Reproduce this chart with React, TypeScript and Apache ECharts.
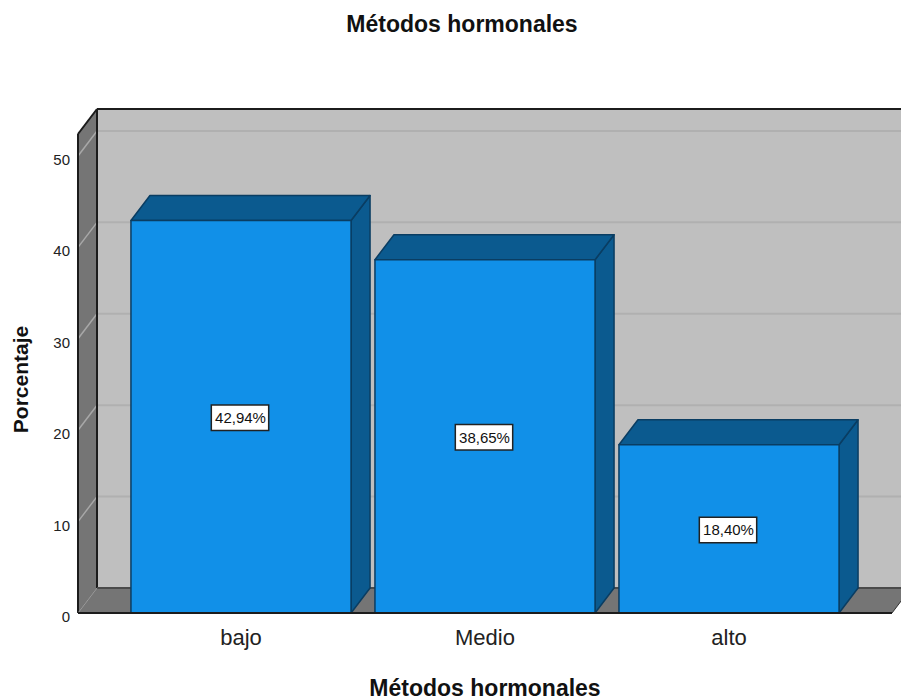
import React, { useEffect, useRef } from "react";
import * as echarts from "echarts";

const titleText = "Métodos hormonales";
const xName = "Métodos hormonales";
const yName = "Porcentaje";
const categories = ["bajo", "Medio", "alto"];
const values = [42.94, 38.65, 18.4];
const barLabels = ["42,94%", "38,65%", "18,40%"];
const gridValues = [10, 20, 30, 40, 50];

const DX = 19;
const DY = 25;
const FONT = "'Liberation Sans', Arial, sans-serif";

export default function App() {
  const ref = useRef<HTMLDivElement>(null);
  useEffect(() => {
    const chart = echarts.init(ref.current!, undefined, { renderer: "svg" });
    chart.setOption({
      animation: false,
      backgroundColor: "#fff",
      title: {
        text: titleText,
        left: 457,
        top: 7,
        textAlign: "center",
        textStyle: { fontFamily: FONT, fontSize: 23, fontWeight: "bold", color: "#111" },
      },
      grid: { left: 119, right: 50, top: 134, bottom: 86, outerBoundsMode: "none" },
      xAxis: {
        type: "category",
        data: categories,
        name: xName,
        nameLocation: "middle",
        nameGap: 63,
        nameTextStyle: { fontFamily: FONT, fontSize: 23, fontWeight: "bold", color: "#111" },
        axisLine: { show: false },
        axisTick: { show: false },
        axisLabel: { fontFamily: FONT, fontSize: 22, color: "#222", margin: 13 },
      },
      yAxis: {
        type: "value",
        min: 0,
        max: 52.4,
        interval: 10,
        offset: 41,
        name: yName,
        nameLocation: "middle",
        nameGap: 47,
        nameTextStyle: { fontFamily: FONT, fontSize: 21, fontWeight: "bold", color: "#111", padding: [0, 12, 0, 0] },
        splitLine: { show: false },
        axisLine: { show: false },
        axisTick: { show: false },
        axisLabel: {
          fontFamily: FONT,
          fontSize: 15,
          color: "#222",
          margin: 8,
          showMaxLabel: false,
          verticalAlign: "top",
          lineHeight: 7,
        },
      },
      series: [
        {
          type: "custom",
          z: 1,
          silent: true,
          data: [0],
          encode: { x: -1, y: -1 },
          renderItem: (params: any, api: any) => {
            const cs = params.coordSys;
            const bottom = api.coord([0, 0])[1];
            const top = api.coord([0, 52.4])[1];
            const left = cs.x - 41;
            const right = cs.x + cs.width + 41;
            const children: any[] = [
              { type: "rect", shape: { x: left + DX, y: top - DY, width: right - left, height: bottom - top }, style: { fill: "#bfbfbf" } },
              { type: "polygon", shape: { points: [[left, top], [left + DX, top - DY], [left + DX, bottom - DY], [left, bottom]] }, style: { fill: "#757575", stroke: "#555", lineWidth: 1 } },
              { type: "polygon", shape: { points: [[left, bottom], [left + DX, bottom - DY], [right + DX, bottom - DY], [right, bottom]] }, style: { fill: "#757575" } },
            ];
            gridValues.forEach((v) => {
              const y = api.coord([0, v])[1];
              children.push({ type: "line", shape: { x1: left, y1: y, x2: left + DX, y2: y - DY }, style: { stroke: "#a8a8a8", lineWidth: 1.5 } });
              children.push({ type: "line", shape: { x1: left + DX, y1: y - DY, x2: right + DX, y2: y - DY }, style: { stroke: "#b0b0b0", lineWidth: 2 } });
            });
            const dark = { stroke: "#1c1c1c", lineWidth: 2 };
            children.push(
              { type: "line", shape: { x1: left + DX, y1: top - DY, x2: right + DX, y2: top - DY }, style: dark },
              { type: "line", shape: { x1: left + DX, y1: top - DY, x2: left + DX, y2: bottom - DY }, style: dark },
              { type: "line", shape: { x1: left, y1: top, x2: left + DX, y2: top - DY }, style: dark },
              { type: "line", shape: { x1: left, y1: top, x2: left, y2: bottom }, style: dark },
              { type: "line", shape: { x1: left + DX, y1: bottom - DY, x2: right + DX, y2: bottom - DY }, style: { stroke: "#4a4a4a", lineWidth: 2 } },
              { type: "line", shape: { x1: right, y1: bottom, x2: right + DX, y2: bottom - DY }, style: { stroke: "#333", lineWidth: 1 } },
              { type: "line", shape: { x1: left, y1: bottom, x2: left + DX, y2: bottom - DY }, style: { stroke: "#9a9a9a", lineWidth: 1 } }
            );
            return { type: "group", children };
          },
        },
        {
          type: "custom",
          z: 2,
          data: values.map((v, i) => [i, v]),
          encode: { x: 0, y: 1 },
          renderItem: (params: any, api: any) => {
            const i = api.value(0);
            const v = api.value(1);
            const [cx, yTop] = api.coord([i, v]);
            const [, yBase] = api.coord([i, 0]);
            const w = api.size([1, 0])[0] * 0.902;
            const x0 = cx - w / 2;
            const x1 = cx + w / 2;
            const edge = { stroke: "#0a3d62", lineWidth: 1.5, lineJoin: "round" };
            return {
              type: "group",
              children: [
                { type: "polygon", shape: { points: [[x1, yTop], [x1 + DX, yTop - DY], [x1 + DX, yBase - DY], [x1, yBase]] }, style: { fill: "#0b5a8f", ...edge } },
                { type: "polygon", shape: { points: [[x0, yTop], [x0 + DX, yTop - DY], [x1 + DX, yTop - DY], [x1, yTop]] }, style: { fill: "#0b5a8f", ...edge } },
                { type: "rect", shape: { x: x0, y: yTop, width: w, height: yBase - yTop }, style: { fill: "#1190e8", ...edge } },
                {
                  type: "text",
                  x: cx - 1,
                  y: (yTop + yBase) / 2 + 1,
                  style: {
                    text: barLabels[params.dataIndex],
                    fontFamily: FONT,
                    fontSize: 15,
                    fill: "#111",
                    align: "center",
                    verticalAlign: "middle",
                    backgroundColor: "#fff",
                    borderColor: "#222",
                    borderWidth: 1.5,
                    padding: [5, 2, 4, 3],
                  },
                },
              ],
            };
          },
        },
        {
          type: "custom",
          z: 3,
          silent: true,
          data: [0],
          encode: { x: -1, y: -1 },
          renderItem: (params: any, api: any) => {
            const cs = params.coordSys;
            const bottom = api.coord([0, 0])[1];
            return {
              type: "line",
              shape: { x1: cs.x - 41, y1: bottom, x2: cs.x + cs.width + 41, y2: bottom },
              style: { stroke: "#1c1c1c", lineWidth: 2 },
            };
          },
        },
      ],
    });
    return () => chart.dispose();
  }, []);
  return (
    <div
      ref={ref}
      style={{ position: "absolute", left: 0, top: 0, width: 901, height: 699 }}
    />
  );
}
